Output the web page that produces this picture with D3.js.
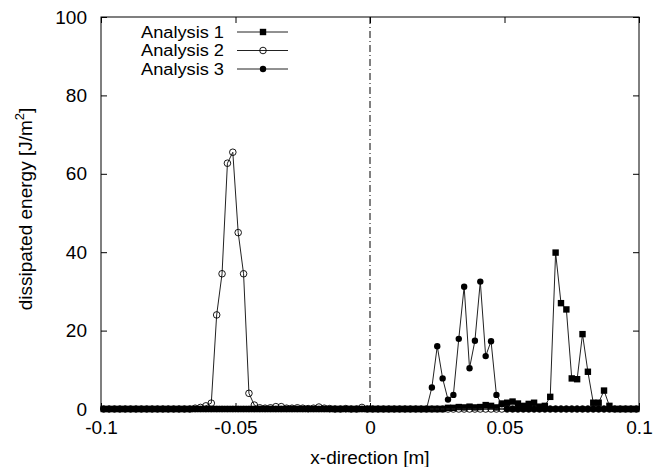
<!DOCTYPE html>
<html>
<head>
<meta charset="utf-8">
<script src="https://cdn.jsdelivr.net/npm/d3@7"></script>
<style>
  body { margin: 0; background: #fff; }
  svg { display: block; font-family: "Liberation Sans", Arial, sans-serif; }
</style>
</head>
<body>
<svg id="chart" width="664" height="467"></svg>
<script>
'use strict'

// element centres along the x-direction [m]
const xPositions = [
  -0.099, -0.097, -0.095, -0.093, -0.091, -0.089, -0.087, -0.085, -0.083, -0.081,
  -0.079, -0.077, -0.075, -0.073, -0.071, -0.069, -0.067, -0.065, -0.063, -0.061,
  -0.059, -0.057, -0.055, -0.053, -0.051, -0.049, -0.047, -0.045, -0.043, -0.041,
  -0.039, -0.037, -0.035, -0.033, -0.031, -0.029, -0.027, -0.025, -0.023, -0.021,
  -0.019, -0.017, -0.015, -0.013, -0.011, -0.009, -0.007, -0.005, -0.003, -0.001,
  0.001, 0.003, 0.005, 0.007, 0.009, 0.011, 0.013, 0.015, 0.017, 0.019,
  0.021, 0.023, 0.025, 0.027, 0.029, 0.031, 0.033, 0.035, 0.037, 0.039,
  0.041, 0.043, 0.045, 0.047, 0.049, 0.051, 0.053, 0.055, 0.057, 0.059,
  0.061, 0.063, 0.065, 0.067, 0.069, 0.071, 0.073, 0.075, 0.077, 0.079,
  0.081, 0.083, 0.085, 0.087, 0.089, 0.091, 0.093, 0.095, 0.097, 0.099
]

const analysis1 = [
  0, 0, 0, 0, 0, 0, 0, 0, 0, 0,
  0, 0, 0, 0, 0, 0, 0, 0, 0, 0,
  0, 0, 0, 0, 0, 0, 0, 0, 0, 0,
  0, 0, 0, 0, 0, 0, 0, 0, 0, 0,
  0, 0, 0, 0, 0, 0, 0, 0, 0, 0,
  0, 0, 0, 0, 0, 0, 0, 0, 0, 0,
  0, 0, 0, 0, 0.3, 0.3, 0.5, 0.4, 0.6, 0.4,
  0.5, 1.0, 0.8, 0.4, 1.4, 1.6, 1.9, 1.4, 0.8, 1.3,
  1.6, 0.6, 0.8, 3.1, 39.9, 27.0, 25.4, 7.8, 7.6, 19.1,
  9.5, 1.6, 1.6, 4.7, 0.8, 0, 0, 0, 0, 0
]

const analysis2 = [
  0, 0, 0, 0, 0, 0, 0, 0, 0, 0,
  0, 0, 0, 0, 0, 0, 0, 0.2, 0.4, 0.8,
  1.5, 24.0, 34.5, 62.7, 65.5, 45.0, 34.5, 4.0, 1.0, 0.3,
  0.2, 0.3, 0.6, 0.6, 0.2, 0.2, 0.3, 0.2, 0.1, 0.2,
  0.5, 0.2, 0.1, 0, 0, 0.1, 0, 0, 0.4, 0,
  0, 0, 0, 0, 0, 0, 0, 0, 0, 0,
  0, 0, 0, 0, 0, 0, 0, 0, 0, 0,
  0, 0, 0, 0, 0, 0, 0, 0, 0, 0,
  0, 0, 0, 0, 0, 0, 0, 0, 0, 0,
  0, 0, 0, 0, 0, 0, 0, 0, 0, 0
]

const analysis3 = [
  0, 0, 0, 0, 0, 0, 0, 0, 0, 0,
  0, 0, 0, 0, 0, 0, 0, 0, 0, 0,
  0, 0, 0, 0, 0, 0, 0, 0, 0, 0,
  0, 0, 0, 0, 0, 0, 0, 0, 0, 0,
  0, 0, 0, 0, 0, 0, 0, 0, 0, 0,
  0, 0, 0, 0, 0, 0, 0, 0, 0, 0,
  0, 5.5, 16.0, 7.8, 2.4, 3.6, 17.9, 31.2, 10.4, 17.4,
  32.5, 13.5, 17.3, 3.6, 1.2, 0, 0, 0, 0, 0,
  0, 0, 0, 0, 0, 0, 0, 0, 0, 0,
  0, 0, 0, 0, 0, 0, 0, 0, 0, 0
]

const seriesNames = ['Analysis 1', 'Analysis 2', 'Analysis 3']
const seriesMarkers = ['square', 'openCircle', 'dot']
const xTicks = [-0.1, -0.05, 0, 0.05, 0.1]
const xTickLabels = ['-0.1', '-0.05', '0', '0.05', '0.1']
const yTicks = [0, 20, 40, 60, 80, 100]

const svg = d3.select('#chart')
const margin = { top: 17, right: 25, bottom: 58, left: 101 }
const width = 664 - margin.left - margin.right
const height = 467 - margin.top - margin.bottom

const x = d3.scaleLinear().domain([-0.1, 0.1]).range([0, width])
const y = d3.scaleLinear().domain([0, 100]).range([height, 0])

const g = svg.append('g').attr('transform', `translate(${margin.left},${margin.top})`)

// ticks pointing inwards on all four sides, labels only bottom and left
const tickLen = 6
const bottomAxis = g.append('g').attr('transform', `translate(0,${height})`)
  .call(d3.axisBottom(x).tickValues(xTicks).tickSize(-tickLen).tickPadding(12)
    .tickFormat((d, i) => xTickLabels[i]))
const leftAxis = g.append('g')
  .call(d3.axisLeft(y).tickValues(yTicks).tickSize(-tickLen).tickPadding(14))
g.append('g').call(d3.axisTop(x).tickValues(xTicks).tickSize(-tickLen).tickFormat(''))
g.append('g').attr('transform', `translate(${width},0)`)
  .call(d3.axisRight(y).tickValues(yTicks).tickSize(-tickLen).tickFormat(''))

g.selectAll('.domain').remove()
g.selectAll('.tick line').attr('stroke', '#000').attr('stroke-width', 1)
bottomAxis.selectAll('text').attr('font-size', 19).attr('fill', '#000')
leftAxis.selectAll('text').attr('font-size', 19).attr('fill', '#000')

// frame
g.append('rect')
  .attr('width', width).attr('height', height)
  .attr('fill', 'none').attr('stroke', '#000').attr('stroke-width', 1)

// dash-dot line at x = 0
g.append('line')
  .attr('x1', x(0)).attr('x2', x(0)).attr('y1', 0).attr('y2', height)
  .attr('stroke', '#000').attr('stroke-width', 1)
  .attr('stroke-dasharray', '7,3,1,3')

const line = d3.line().x(d => x(d[0])).y(d => y(d[1]))

function drawMarker (sel, kind) {
  if (kind === 'square') {
    sel.append('rect').attr('x', -3.2).attr('y', -3.2).attr('width', 6.4).attr('height', 6.4)
      .attr('fill', '#000')
  } else if (kind === 'openCircle') {
    sel.append('circle').attr('r', 3.3).attr('fill', 'none')
      .attr('stroke', '#000').attr('stroke-width', 0.9)
  } else {
    sel.append('circle').attr('r', 3.2).attr('fill', '#000')
  }
}

const allSeries = [analysis1, analysis2, analysis3]
allSeries.forEach((values, s) => {
  const pts = values.map((v, i) => [xPositions[i], v])
  const sg = g.append('g').attr('class', 'series-' + (s + 1))
  sg.append('path').datum(pts)
    .attr('d', line)
    .attr('fill', 'none').attr('stroke', '#222').attr('stroke-width', 1)
  sg.selectAll('.pt').data(pts).enter().append('g')
    .attr('class', 'pt')
    .attr('transform', d => `translate(${x(d[0])},${y(d[1])})`)
    .each(function () { drawMarker(d3.select(this), seriesMarkers[s]) })
})

// legend: rows are tight, so a 16px face is stretched to the reference width
const legend = svg.append('g')
seriesNames.forEach((name, i) => {
  const ly = 32 + i * 18.5
  legend.append('text').attr('x', 224).attr('y', ly + 5.5)
    .attr('text-anchor', 'end').attr('font-size', 16)
    .attr('textLength', 83).attr('lengthAdjust', 'spacingAndGlyphs')
    .text(name)
  legend.append('line').attr('x1', 237).attr('x2', 288).attr('y1', ly).attr('y2', ly)
    .attr('stroke', '#222').attr('stroke-width', 1)
  const m = legend.append('g').attr('transform', `translate(263,${ly})`)
  drawMarker(m, seriesMarkers[i])
})

// axis titles
svg.append('text')
  .attr('x', margin.left + width / 2).attr('y', 464)
  .attr('text-anchor', 'middle').attr('font-size', 19)
  .text('x-direction [m]')

const yTitle = svg.append('text')
  .attr('transform', `translate(32,${margin.top + height / 2 - 4}) rotate(-90)`)
  .attr('text-anchor', 'middle').attr('font-size', 19)
yTitle.append('tspan').text('dissipated energy [J/m')
yTitle.append('tspan').attr('dy', -8).attr('font-size', 13).text('2')
yTitle.append('tspan').attr('dy', 8).text(']')
</script>
</body>
</html>
